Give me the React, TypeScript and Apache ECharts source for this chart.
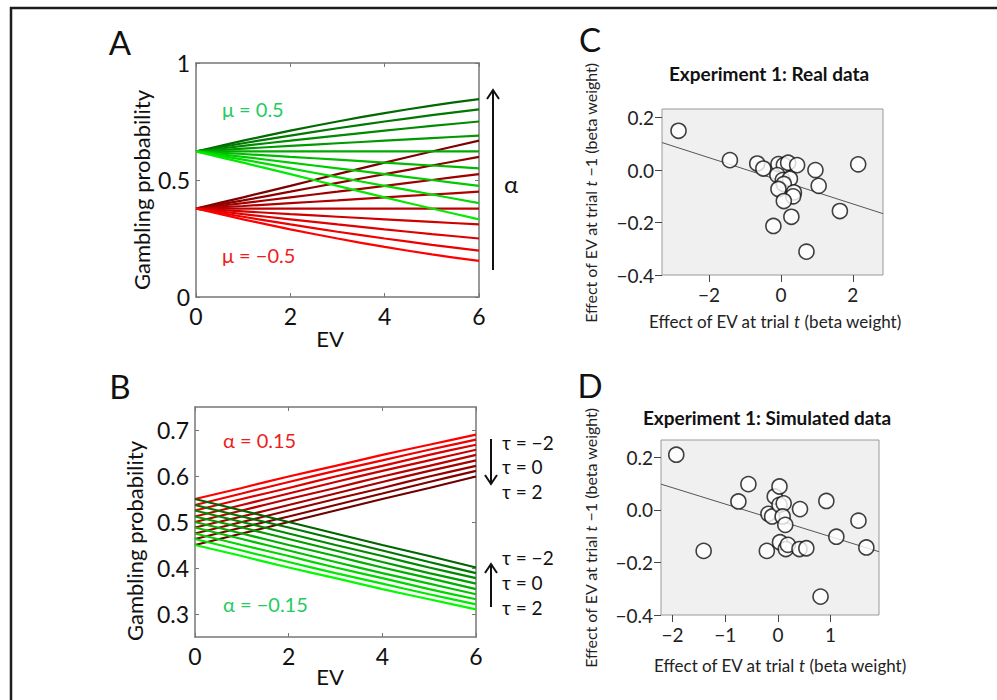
import React, { useEffect, useRef } from 'react';
import * as echarts from 'echarts';

// ---------- data ----------
const EV = [0, 1, 2, 3, 4, 5, 6];

// Panel A: mu = 0.5 (green), alpha from +0.2 (top) to -0.2 (bottom)
const A_GREEN: number[][] = [
  [0.622, 0.668, 0.711, 0.750, 0.786, 0.818, 0.846],
  [0.622, 0.657, 0.690, 0.721, 0.750, 0.777, 0.802],
  [0.622, 0.646, 0.668, 0.690, 0.711, 0.731, 0.750],
  [0.622, 0.634, 0.646, 0.657, 0.668, 0.679, 0.690],
  [0.622, 0.622, 0.622, 0.622, 0.622, 0.622, 0.622],
  [0.622, 0.611, 0.599, 0.587, 0.574, 0.562, 0.550],
  [0.622, 0.599, 0.574, 0.550, 0.525, 0.500, 0.475],
  [0.622, 0.587, 0.550, 0.512, 0.475, 0.438, 0.401],
  [0.622, 0.574, 0.525, 0.475, 0.426, 0.378, 0.332],
];
// Panel A: mu = -0.5 (red)
const A_RED: number[][] = [
  [0.378, 0.426, 0.475, 0.525, 0.574, 0.622, 0.668],
  [0.378, 0.413, 0.450, 0.488, 0.525, 0.562, 0.599],
  [0.378, 0.401, 0.426, 0.450, 0.475, 0.500, 0.525],
  [0.378, 0.389, 0.401, 0.413, 0.426, 0.438, 0.450],
  [0.378, 0.378, 0.378, 0.378, 0.378, 0.378, 0.378],
  [0.378, 0.366, 0.354, 0.343, 0.332, 0.321, 0.310],
  [0.378, 0.354, 0.332, 0.310, 0.289, 0.269, 0.250],
  [0.378, 0.343, 0.310, 0.279, 0.250, 0.223, 0.198],
  [0.378, 0.332, 0.289, 0.250, 0.214, 0.182, 0.154],
];
// Panel B: alpha = 0.15 (red), tau from -2 (top) to 2 (bottom)
const B_RED: number[][] = [
  [0.550, 0.574, 0.599, 0.622, 0.646, 0.668, 0.690],
  [0.537, 0.562, 0.587, 0.611, 0.634, 0.657, 0.679],
  [0.525, 0.550, 0.574, 0.599, 0.622, 0.646, 0.668],
  [0.512, 0.537, 0.562, 0.587, 0.611, 0.634, 0.657],
  [0.500, 0.525, 0.550, 0.574, 0.599, 0.622, 0.646],
  [0.488, 0.512, 0.537, 0.562, 0.587, 0.611, 0.634],
  [0.475, 0.500, 0.525, 0.550, 0.574, 0.599, 0.622],
  [0.463, 0.488, 0.512, 0.537, 0.562, 0.587, 0.611],
  [0.450, 0.475, 0.500, 0.525, 0.550, 0.574, 0.599],
];
// Panel B: alpha = -0.15 (green)
const B_GREEN: number[][] = [
  [0.550, 0.525, 0.500, 0.475, 0.450, 0.426, 0.401],
  [0.537, 0.512, 0.488, 0.463, 0.438, 0.413, 0.389],
  [0.525, 0.500, 0.475, 0.450, 0.426, 0.401, 0.378],
  [0.512, 0.488, 0.463, 0.438, 0.413, 0.389, 0.366],
  [0.500, 0.475, 0.450, 0.426, 0.401, 0.378, 0.354],
  [0.488, 0.463, 0.438, 0.413, 0.389, 0.366, 0.343],
  [0.475, 0.450, 0.426, 0.401, 0.378, 0.354, 0.332],
  [0.463, 0.438, 0.413, 0.389, 0.366, 0.343, 0.321],
  [0.450, 0.426, 0.401, 0.378, 0.354, 0.332, 0.310],
];

// Panel C: real data
const C_X = [-2.85, -1.42, -0.66, -0.49, -0.07, 0.08, 0.20, 0.45, -0.10, 0.05, 0.25, 0.08, -0.07, 0.36, 0.34, 0.08, 0.29, -0.21, 0.71, 0.96, 1.05, 1.64, 2.15];
const C_Y = [0.150, 0.038, 0.025, 0.006, 0.023, 0.019, 0.028, 0.019, -0.019, -0.038, -0.033, -0.053, -0.072, -0.085, -0.100, -0.118, -0.178, -0.213, -0.311, 0.000, -0.060, -0.156, 0.022];
const C_FIT_X = [-3.31, 2.84];
const C_FIT_Y = [0.105, -0.166];

// Panel D: simulated data
const D_X = [-1.93, -1.41, -0.75, -0.56, -0.21, -0.18, -0.11, -0.06, 0.03, 0.03, 0.11, 0.09, 0.14, 0.04, 0.15, 0.19, 0.42, 0.41, 0.54, 0.92, 1.11, 1.53, 1.68, 0.81];
const D_Y = [0.210, -0.156, 0.032, 0.098, -0.156, -0.015, -0.025, 0.051, 0.089, 0.019, 0.025, -0.025, -0.057, -0.123, -0.149, -0.133, 0.003, -0.149, -0.146, 0.034, -0.102, -0.041, -0.143, -0.330];
const D_FIT_X = [-2.22, 1.92];
const D_FIT_Y = [0.098, -0.159];

const AB_X_TICKS = [0, 2, 4, 6];
const A_Y_TICKS = [0, 0.5, 1];
const B_Y_TICKS = [0.3, 0.4, 0.5, 0.6, 0.7];
const C_X_TICKS = [-2, 0, 2];
const C_Y_TICKS = [-0.4, -0.2, 0, 0.2];
const D_X_TICKS = [-2, -1, 0, 1];
const D_Y_TICKS = [-0.4, -0.2, 0, 0.2];

// ---------- styles ----------
const FONT = 'Lato, "Open Sans", sans-serif';
const mix = (a: number[], b: number[], t: number) =>
  `rgb(${Math.round(a[0] + (b[0] - a[0]) * t)},${Math.round(a[1] + (b[1] - a[1]) * t)},${Math.round(a[2] + (b[2] - a[2]) * t)})`;
const minus = (s: string) => s.replace('-', '\u2212');

function lineSeries(rows: number[][], c1: number[], c2: number[], axis: number) {
  return rows.map((row, i) => ({
    type: 'line',
    xAxisIndex: axis,
    yAxisIndex: axis,
    data: EV.map((x, j) => [x, row[j]]),
    showSymbol: false,
    smooth: 0.3,
    silent: true,
    lineStyle: { width: 2.2, color: mix(c1, c2, i / (rows.length - 1)) },
    z: 2,
  }));
}

function boxAxes(gridIndex: number, min: number, max: number, ticks: number[], isX: boolean, fmt: (v: number) => string) {
  const main = {
    type: 'value',
    gridIndex,
    min,
    max,
    position: isX ? 'bottom' : 'left',
    splitLine: { show: false },
    axisLine: { show: true, onZero: false, lineStyle: { color: '#777', width: 1.5 } },
    axisTick: { show: true, inside: true, length: 4, lineStyle: { color: '#777' }, customValues: ticks },
    axisLabel: { show: true, customValues: ticks, formatter: fmt, color: '#111', fontSize: 23, fontFamily: FONT, margin: isX ? 7 : 6 },
  };
  const other = {
    type: 'value',
    gridIndex,
    min,
    max,
    position: isX ? 'top' : 'right',
    splitLine: { show: false },
    axisLine: { show: true, onZero: false, lineStyle: { color: '#777', width: 1.5 } },
    axisTick: { show: true, inside: true, length: 4, lineStyle: { color: '#777' }, customValues: ticks },
    axisLabel: { show: false },
  };
  return [main, other];
}

function scatterAxis(gridIndex: number, min: number, max: number, ticks: number[], isX: boolean, fmt: (v: number) => string) {
  return {
    type: 'value',
    gridIndex,
    min,
    max,
    position: isX ? 'bottom' : 'left',
    splitLine: { show: false },
    axisLine: { show: false, onZero: false },
    axisTick: { show: true, inside: false, length: 7, lineStyle: { color: '#444' }, customValues: ticks },
    axisLabel: { show: true, customValues: ticks, formatter: fmt, color: '#222', fontSize: 19, fontFamily: FONT, margin: isX ? 10 : 8 },
  };
}

function txt(text: string, x: number, y: number, size: number, fill = '#111', extra: any = {}) {
  return {
    type: 'text',
    x,
    y,
    silent: true,
    ...extra,
    style: {
      text,
      fill,
      fontSize: size,
      fontFamily: FONT,
      align: 'center',
      verticalAlign: 'middle',
      ...(extra.style || {}),
    },
  };
}

function vline(x: number, y1: number, y2: number, w = 2) {
  return { type: 'line', silent: true, shape: { x1: x, y1, x2: x, y2 }, style: { stroke: '#111', lineWidth: w } };
}
function head(x: number, y: number, up: boolean) {
  const d = up ? 9 : -9;
  return {
    type: 'polyline',
    silent: true,
    shape: { points: [[x - 6, y + d], [x, y], [x + 6, y + d]] },
    style: { stroke: '#111', lineWidth: 2, fill: 'none' },
  };
}

export default function App() {
  const ref = useRef<HTMLDivElement>(null);
  useEffect(() => {
    if (!ref.current) return;
    const chart = echarts.init(ref.current, undefined, { renderer: 'svg' });
    const f1 = (v: number) => (v === 0 ? '0' : v === 1 ? '1' : String(v));
    const f2 = (v: number) => v.toFixed(1);
    const f0 = (v: number) => minus(String(v));
    const f3 = (v: number) => minus(v.toFixed(1));

    const scatterStyle = {
      symbol: 'circle',
      symbolSize: 15,
      itemStyle: { color: '#fff', borderColor: '#111', borderWidth: 1.6 },
      silent: true,
      z: 3,
    };

    const richX = { i: { fontStyle: 'italic', fontSize: 17, fontFamily: FONT, fill: '#222' } };
    const richY = { i: { fontStyle: 'italic', fontSize: 16, fontFamily: FONT, fill: '#222' } };

    const option: any = {
      animation: false,
      backgroundColor: '#fff',
      grid: [
        { left: 196, top: 63, width: 283, height: 234, show: false },
        { left: 195, top: 407, width: 281, height: 230, show: false },
        { left: 662, top: 109, width: 221, height: 166, show: true, backgroundColor: '#f0f0f0', borderColor: '#9a9a9a', borderWidth: 1 },
        { left: 661, top: 440, width: 218, height: 175, show: true, backgroundColor: '#f0f0f0', borderColor: '#9a9a9a', borderWidth: 1 },
      ],
      xAxis: [
        ...boxAxes(0, 0, 6, AB_X_TICKS, true, f1),
        ...boxAxes(1, 0, 6, AB_X_TICKS, true, f1),
        scatterAxis(2, C_FIT_X[0], C_FIT_X[1], C_X_TICKS, true, f0),
        scatterAxis(3, D_FIT_X[0], D_FIT_X[1], D_X_TICKS, true, f0),
      ],
      yAxis: [
        ...boxAxes(0, 0, 1, A_Y_TICKS, false, f1),
        ...boxAxes(1, 0.25, 0.75, B_Y_TICKS, false, f2),
        scatterAxis(2, -0.4, 0.233, C_Y_TICKS, false, f3),
        scatterAxis(3, -0.4, 0.266, D_Y_TICKS, false, f3),
      ],
      series: [
        ...lineSeries(A_RED, [125, 0, 0], [255, 0, 0], 0),
        ...lineSeries(A_GREEN, [0, 105, 0], [0, 235, 0], 0),
        ...lineSeries(B_RED, [255, 0, 0], [110, 0, 0], 2),
        ...lineSeries(B_GREEN, [0, 100, 0], [0, 250, 0], 2),
        {
          type: 'line', xAxisIndex: 4, yAxisIndex: 4, silent: true, showSymbol: false,
          data: C_FIT_X.map((x, i) => [x, C_FIT_Y[i]]),
          lineStyle: { color: '#555', width: 1 }, z: 2,
        },
        { type: 'scatter', xAxisIndex: 4, yAxisIndex: 4, data: C_X.map((x, i) => [x, C_Y[i]]), ...scatterStyle },
        {
          type: 'line', xAxisIndex: 5, yAxisIndex: 5, silent: true, showSymbol: false,
          data: D_FIT_X.map((x, i) => [x, D_FIT_Y[i]]),
          lineStyle: { color: '#555', width: 1 }, z: 2,
        },
        { type: 'scatter', xAxisIndex: 5, yAxisIndex: 5, data: D_X.map((x, i) => [x, D_Y[i]]), ...scatterStyle },
      ],
      graphic: [
        // frame
        { type: 'line', silent: true, shape: { x1: 11, y1: 7, x2: 11, y2: 700 }, style: { stroke: '#1c1c1c', lineWidth: 2.5 } },
        { type: 'line', silent: true, shape: { x1: 10, y1: 8, x2: 997, y2: 8 }, style: { stroke: '#1c1c1c', lineWidth: 2.5 } },
        // panel letters
        txt('A', 120, 42, 33),
        txt('B', 120, 386, 33),
        txt('C', 590, 39, 33),
        txt('D', 590, 385, 33),
        // panel A
        txt('Gambling probability', 141, 190, 22, '#111', { rotation: Math.PI / 2 }),
        txt('EV', 330, 338, 22),
        txt('\u03bc = 0.5', 222, 109, 20, '#22cc5e', { style: { align: 'left' } }),
        txt('\u03bc = \u22120.5', 222, 255, 20, '#ee1c1c', { style: { align: 'left' } }),
        vline(493, 270, 91),
        head(493, 90, true),
        txt('\u03b1', 511, 183, 24),
        // panel B
        txt('Gambling probability', 134, 541, 22, '#111', { rotation: Math.PI / 2 }),
        txt('EV', 330, 676, 22),
        txt('\u03b1 = 0.15', 223, 440, 20, '#ee1c1c', { style: { align: 'left' } }),
        txt('\u03b1 = \u22120.15', 223, 604, 20, '#22cc5e', { style: { align: 'left' } }),
        vline(491, 439, 483),
        head(491, 484, false),
        txt('\u03c4 = \u22122', 502, 442, 19, '#111', { style: { align: 'left' } }),
        txt('\u03c4 = 0', 502, 466, 19, '#111', { style: { align: 'left' } }),
        txt('\u03c4 = 2', 502, 491, 19, '#111', { style: { align: 'left' } }),
        vline(491, 607, 565),
        head(491, 564, true),
        txt('\u03c4 = \u22122', 502, 557, 19, '#111', { style: { align: 'left' } }),
        txt('\u03c4 = 0', 502, 582, 19, '#111', { style: { align: 'left' } }),
        txt('\u03c4 = 2', 502, 607, 19, '#111', { style: { align: 'left' } }),
        // panel C
        txt('Experiment 1: Real data', 769, 73, 19, '#111', { style: { fontWeight: 'bold' } }),
        txt('Effect of EV at trial {i|t} (beta weight)', 775, 321, 17, '#222', { style: { rich: richX } }),
        txt('Effect of EV at trial {i|t} \u22121 (beta weight)', 590, 193, 16, '#222', { rotation: Math.PI / 2, style: { rich: richY } }),
        // panel D
        txt('Experiment 1: Simulated data', 767, 417, 19, '#111', { style: { fontWeight: 'bold' } }),
        txt('Effect of EV at trial {i|t} (beta weight)', 780, 665, 17, '#222', { style: { rich: richX } }),
        txt('Effect of EV at trial {i|t} \u22121 (beta weight)', 590, 538, 16, '#222', { rotation: Math.PI / 2, style: { rich: richY } }),
      ],
    };
    chart.setOption(option);
    return () => chart.dispose();
  }, []);
  return <div ref={ref} style={{ position: 'fixed', left: 0, top: 0, width: 997, height: 700 }} />;
}
